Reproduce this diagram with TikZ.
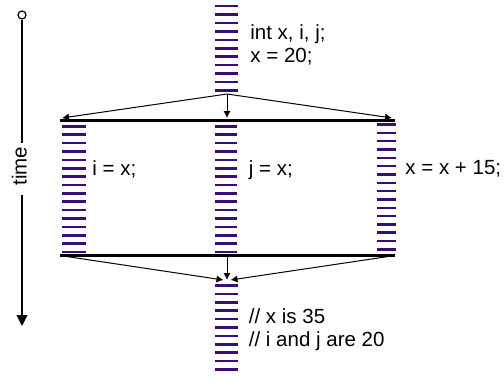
\documentclass[tikz,border=0pt]{standalone}
\usepackage{fontspec}
\setmainfont{Liberation Sans}
\usetikzlibrary{arrows.meta}
\definecolor{thr}{RGB}{58,12,120}
\begin{document}
\begin{tikzpicture}[x=0.5pt,y=-0.5pt,
  stripe/.style={draw=thr,line width=1.3pt},
  bar/.style={draw=black,line width=1.1pt},
  flow/.style={draw=black,line width=0.5pt,-{Latex[length=3.5pt,width=3.6pt]}},
  axis/.style={draw=black,line width=0.6pt},
  lbl/.style={inner sep=0pt,anchor=base west,font=\fontsize{10.25pt}{11.7pt}\selectfont}]
\useasboundingbox (0,0) rectangle (504,376);
% threads
\foreach \i in {0,...,10} \draw[stripe] (215,{6+8.45*\i}) -- (238,{6+8.45*\i});
\foreach \i in {0,...,15} \draw[stripe] (62,{126.3+8.38*\i}) -- (86,{126.3+8.38*\i});
\foreach \i in {0,...,15} \draw[stripe] (215,{126.3+8.38*\i}) -- (237,{126.3+8.38*\i});
\foreach \i in {0,...,15} \draw[stripe] (377,{124.5+8.33*\i}) -- (396,{124.5+8.33*\i});
\foreach \i in {0,...,10} \draw[stripe] (215,{285.5+8.4*\i}) -- (238,{285.5+8.4*\i});
% fork / join bars
\coordinate (fl) at (60,120.5);
\coordinate (fr) at (395,120.5);
\coordinate (jl) at (60,255.5);
\coordinate (jr) at (395,255.5);
\draw[bar] (fl) -- (fr);
\draw[bar] (jl) -- (jr);
% fork arrows
\coordinate (fs) at (227,94);
\coordinate (fa) at (62,118);
\coordinate (fb) at (227,118);
\coordinate (fc) at (392,118);
\draw[flow] (fs) -- (fa);
\draw[flow] (fs) -- (fb);
\draw[flow] (fs) -- (fc);
% join arrows
\coordinate (jm) at (227,256);
\coordinate (ja) at (223.5,280);
\coordinate (jb) at (227,280);
\coordinate (jc) at (230.5,280);
\draw[flow] (jl) -- (ja);
\draw[flow] (jm) -- (jb);
\draw[flow] (jr) -- (jc);
% time axis
\node[circle,draw,line width=0.6pt,inner sep=0pt,minimum size=4pt] (t0) at (22,15) {};
\coordinate (t1) at (22,143);
\coordinate (t2) at (22,195);
\coordinate (t3) at (22,326);
\draw[axis] (t0.south) -- (t1);
\draw[axis,-{Triangle[length=5.5pt,width=5.4pt]}] (t2) -- (t3);
\node[lbl,anchor=base,rotate=90] (time) at (26.5,166) {time};
% labels
\node[lbl] (a1) at (250,39.3) {int x, i, j;};
\node[lbl] (a2) at (250,62.7) {x = 20;};
\node[lbl] (b1) at (92,175) {i = x;};
\node[lbl] (c1) at (248.5,175) {j = x;};
\node[lbl] (d1) at (405,174.5) {x = x + 15;};
\node[lbl] (e1) at (248.5,323.3) {// x is 35};
\node[lbl] (e2) at (248.5,346.7) {// i and j are 20};
\end{tikzpicture}
\end{document}
